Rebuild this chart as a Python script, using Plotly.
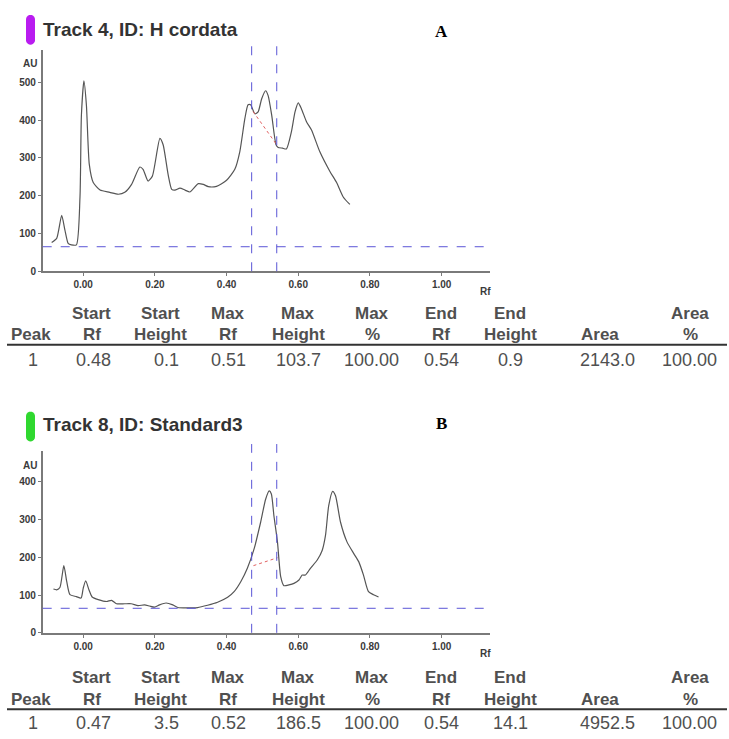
import plotly.graph_objects as go

W, H = 729, 739

# ---------------- data ----------------
rf_a = [-0.088, -0.074, -0.060, -0.051, -0.042, -0.033, -0.019, -0.009, -0.005, 0.002, 0.009,
        0.017, 0.028, 0.047, 0.074, 0.098, 0.116, 0.135, 0.158, 0.167, 0.181, 0.193, 0.214,
        0.223, 0.237, 0.247, 0.256, 0.270, 0.284, 0.298, 0.321, 0.335, 0.349, 0.372, 0.400,
        0.423, 0.437, 0.451, 0.460, 0.467, 0.479, 0.488, 0.498, 0.509, 0.516, 0.526, 0.538,
        0.544, 0.556, 0.567, 0.581, 0.591, 0.600, 0.609, 0.623, 0.637, 0.660, 0.688, 0.707,
        0.726, 0.744]
au_a = [76, 87, 148, 109, 74, 70, 70, 196, 413, 504, 439,
        283, 235, 215, 209, 204, 209, 230, 276, 270, 239, 252, 352,
        335, 256, 217, 215, 220, 215, 210, 232, 230, 224, 225, 241,
        270, 317, 404, 441, 441, 417, 422, 457, 478, 465, 413, 335,
        328, 326, 324, 370, 422, 446, 430, 396, 374, 317, 265, 235,
        196, 177]

rf_b = [-0.083, -0.074, -0.065, -0.054, -0.046, -0.037, -0.019, -0.006, 0.000, 0.007, 0.016,
        0.025, 0.042, 0.065, 0.079, 0.093, 0.116, 0.134, 0.153, 0.171, 0.185, 0.199, 0.213,
        0.231, 0.250, 0.264, 0.292, 0.319, 0.347, 0.375, 0.403, 0.421, 0.440, 0.458, 0.477,
        0.495, 0.509, 0.519, 0.525, 0.532, 0.542, 0.551, 0.560, 0.574, 0.588, 0.602, 0.611,
        0.620, 0.634, 0.653, 0.667, 0.676, 0.685, 0.696, 0.704, 0.718, 0.736, 0.755, 0.769,
        0.782, 0.796, 0.810, 0.824]
au_b = [116, 114, 120, 178, 136, 101, 96, 92, 118, 138, 114,
        95, 88, 83, 86, 77, 77, 77, 72, 74, 71, 68, 74,
        79, 74, 67, 66, 67, 73, 81, 94, 109, 136, 171, 223,
        293, 354, 376, 368, 311, 241, 149, 125, 127, 131, 140, 153,
        153, 171, 193, 219, 258, 337, 375, 363, 293, 241, 210, 188,
        153, 109, 101, 95]

base_a_rf = [0.474, 0.540]
base_a_au = [423, 335]
base_b_rf = [0.475, 0.542]
base_b_au = [178, 199]

window_rf = [0.47, 0.54]
threshold_au = 65

x_ticks = [0.0, 0.2, 0.4, 0.6, 0.8, 1.0]
y_ticks_a = [0, 100, 200, 300, 400, 500]
y_ticks_b = [0, 100, 200, 300, 400]

title_a = "Track 4, ID: H cordata"
title_b = "Track 8, ID: Standard3"

head_top = ["", "Start", "Start", "Max", "Max", "Max", "End", "End", "", "Area"]
head_bot = ["Peak", "Rf", "Height", "Rf", "Height", "%", "Rf", "Height", "Area", "%"]
row_a = ["1", "0.48", "0.1", "0.51", "103.7", "100.00", "0.54", "0.9", "2143.0", "100.00"]
row_b = ["1", "0.47", "3.5", "0.52", "186.5", "100.00", "0.54", "14.1", "4952.5", "100.00"]

# ---------------- layout helpers ----------------
def px(x):
    return x / W

def py(y):
    return 1 - y / H

head_cx = [31, 92, 160, 228, 298, 372, 441, 510, 600, 690]
data_cx = [33, 93, 166, 229, 298, 371, 441, 510, 607, 689]

LINE = "#555555"
DASH = "#5a55d6"
AXIS = "#7a7a7a"
TXT = "#3a3a3a"

fig = go.Figure()

fig.add_trace(go.Scatter(x=rf_a, y=au_a, mode="lines", line=dict(color=LINE, width=1.2, shape="spline", smoothing=0.6),
                         xaxis="x", yaxis="y", hoverinfo="skip"))
fig.add_trace(go.Scatter(x=base_a_rf, y=base_a_au, mode="lines", line=dict(color="#e06060", width=1, dash="dot"),
                         xaxis="x", yaxis="y", hoverinfo="skip"))
fig.add_trace(go.Scatter(x=rf_b, y=au_b, mode="lines", line=dict(color=LINE, width=1.2, shape="spline", smoothing=0.6),
                         xaxis="x2", yaxis="y2", hoverinfo="skip"))
fig.add_trace(go.Scatter(x=base_b_rf, y=base_b_au, mode="lines", line=dict(color="#e06060", width=1, dash="dot"),
                         xaxis="x2", yaxis="y2", hoverinfo="skip"))

tickfont = dict(family="Liberation Sans", size=10, color=TXT, weight="bold")
xaxis_common = dict(range=[-0.113, 1.135], tickvals=x_ticks, tickformat=".2f", showgrid=False, zeroline=False,
                    showline=True, linecolor=AXIS, linewidth=1.5, ticks="outside", ticklen=3, tickcolor=AXIS,
                    tickfont=tickfont, fixedrange=True)
yaxis_common = dict(showgrid=False, zeroline=False, showline=True, linecolor=AXIS, linewidth=1.5,
                    ticks="outside", ticklen=3, tickcolor=AXIS, tickfont=tickfont, fixedrange=True)

fig.update_layout(
    width=W, height=H, margin=dict(l=0, r=0, t=0, b=0),
    paper_bgcolor="white", plot_bgcolor="white", showlegend=False,
    xaxis=dict(domain=[px(42.7), px(490)], anchor="y", **xaxis_common),
    yaxis=dict(domain=[py(273.5), py(50)], anchor="x", range=[0, 587], tickvals=y_ticks_a, **yaxis_common),
    xaxis2=dict(domain=[px(42.7), px(490)], anchor="y2", **xaxis_common),
    yaxis2=dict(domain=[py(638), py(455)], anchor="x2", range=[0, 481], tickvals=y_ticks_b, **yaxis_common),
)

shapes = []
for xr, yr, top in (("x", "y", 1.025), ("x2", "y2", 1.04)):
    for r in window_rf:
        shapes.append(dict(type="line", xref=xr, yref=yr + " domain", x0=r, x1=r, y0=0, y1=top,
                           line=dict(color=DASH, width=1, dash="dash")))
    shapes.append(dict(type="line", xref=xr + " domain", yref=yr, x0=0, x1=1, y0=threshold_au, y1=threshold_au,
                       line=dict(color=DASH, width=1, dash="dash")))


def pill_path(x0, x1, y0, y1):
    # rounded capsule in pixel coords -> paper coords
    r = (x1 - x0) / 2.0
    cx = (x0 + x1) / 2.0
    pts = []
    import math
    n = 10
    for i in range(n + 1):  # top cap
        a = math.pi + math.pi * i / n
        pts.append((cx + r * math.cos(a), y0 + r + r * math.sin(a)))
    for i in range(n + 1):  # bottom cap
        a = math.pi * i / n
        pts.append((cx + r * math.cos(a), y1 - r + r * math.sin(a)))
    s = "M " + " L ".join(f"{px(x):.5f},{py(y):.5f}" for x, y in pts) + " Z"
    return s


shapes.append(dict(type="path", xref="paper", yref="paper", path=pill_path(26, 35, 15, 45),
                   fillcolor="#b91cf0", line=dict(width=0), layer="above"))
shapes.append(dict(type="path", xref="paper", yref="paper", path=pill_path(26, 35, 415, 445),
                   fillcolor="#2fd82f", line=dict(width=0), layer="above"))

# table rules
for ly in (347.5, 715):
    shapes.append(dict(type="line", xref="paper", yref="paper", x0=px(7), x1=px(727), y0=py(ly), y1=py(ly),
                       line=dict(color="#333333", width=2)))
fig.update_layout(shapes=shapes)

ann = []
def text(x, y, s, size, color=TXT, bold=False, family="Liberation Sans", xanchor="center"):
    ann.append(dict(xref="paper", yref="paper", x=px(x), y=py(y), text=s, showarrow=False,
                    xanchor=xanchor, yanchor="middle",
                    font=dict(family=family, size=size, color=color, weight="bold" if bold else "normal")))

text(41, 30, title_a, 19, color="#333333", bold=True, xanchor="left")
text(41, 428, title_b, 19, color="#333333", bold=True, xanchor="left")
text(441, 32, "A", 17, color="black", bold=True, family="Liberation Serif")
text(441, 427, "B", 17, color="black", bold=True, family="Liberation Serif")
text(30, 64, "AU", 10, bold=True)
text(485, 294, "Rf", 10, bold=True)
text(30, 469, "AU", 10, bold=True)
text(485, 659, "Rf", 10, bold=True)

for (y1, y2, yd), row in (((316, 337, 363), row_a), ((683, 705, 728.5), row_b)):
    for hx, dx, t1, t2, v in zip(head_cx, data_cx, head_top, head_bot, row):
        if t1:
            text(hx, y1, t1, 17, color="#505050", bold=True)
        text(hx, y2, t2, 17, color="#505050", bold=True)
        text(dx, yd, v, 18, color="#505050")

fig.update_layout(annotations=ann)

fig.write_html("out.html", config={"displayModeBar": False},
               post_script="document.body.style.margin='0';document.body.style.overflow='hidden';")
